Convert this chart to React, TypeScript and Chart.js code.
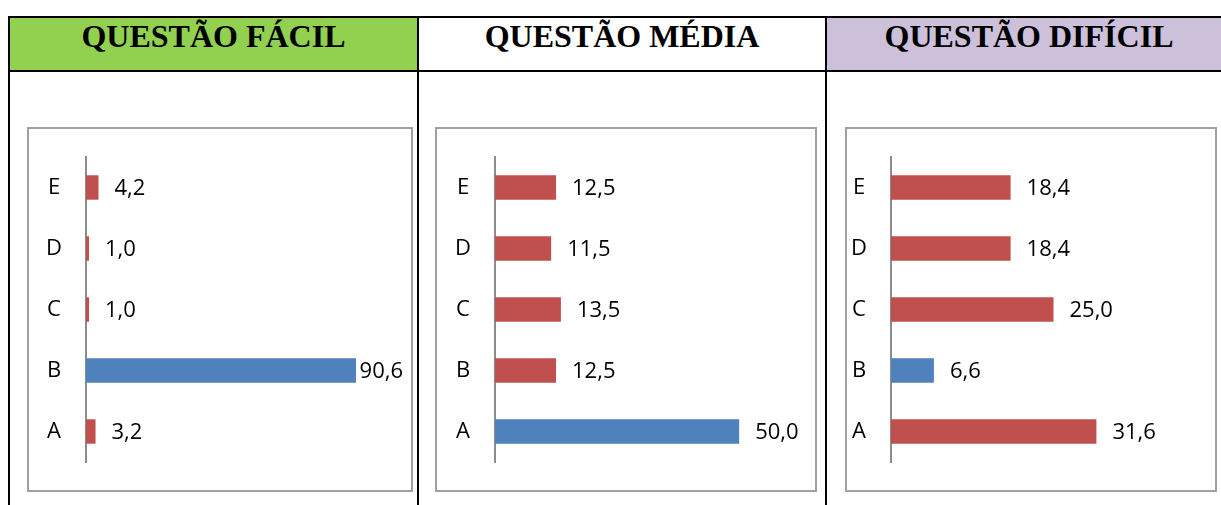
import React, { useEffect, useRef } from "react";
import { Chart, registerables } from "chart.js";

Chart.register(...registerables);

// ---- data ----
const categories = ["A", "B", "C", "D", "E"];
const easyValues = [3.2, 90.6, 1.0, 1.0, 4.2];
const mediumValues = [50.0, 12.5, 13.5, 11.5, 12.5];
const hardValues = [31.6, 6.6, 25.0, 18.4, 18.4];
const correctAnswers = ["B", "A", "B"];
const titles = ["QUESTÃO FÁCIL", "QUESTÃO MÉDIA", "QUESTÃO DIFÍCIL"];
const axisMax = [100, 60, 40];

// ---- style ----
const RED = "#C0504D";
const BLUE = "#4F81BD";
const LABEL_FONT = '"Open Sans", "Liberation Sans", sans-serif';
const FONT_SIZE = 22;

type PanelLayout = {
  left: number;
  width: number;
  yAxisWidth: number;
  padRight: number;
};

const panelLayouts: PanelLayout[] = [
  { left: 27, width: 386, yAxisWidth: 57, padRight: 27 },
  { left: 435, width: 382, yAxisWidth: 58, padRight: 27 },
  { left: 845, width: 372, yAxisWidth: 44, padRight: 64 },
];

const BOX_TOP = 127;
const BOX_HEIGHT = 365;
const BORDER = 2;

const fmt = (v: number) => v.toFixed(1).replace(".", ",");

const valueLabelPlugin = {
  id: "valueLabels",
  afterDatasetsDraw(chart: any) {
    const ctx = chart.ctx;
    const meta = chart.getDatasetMeta(0);
    const data = chart.data.datasets[0].data as number[];
    ctx.save();
    ctx.font = `${FONT_SIZE}px ${LABEL_FONT}`;
    ctx.fillStyle = "#000";
    ctx.textAlign = "left";
    ctx.textBaseline = "middle";
    meta.data.forEach((bar: any, i: number) => {
      const text = fmt(data[i]);
      const w = ctx.measureText(text).width;
      let x = bar.x + 16;
      const limit = chart.width - 8;
      if (x + w > limit) x = limit - w;
      ctx.fillText(text, x, bar.y + 1);
    });
    ctx.restore();
  },
};

function Panel({
  values,
  correct,
  max,
  layout,
}: {
  values: number[];
  correct: string;
  max: number;
  layout: PanelLayout;
}) {
  const ref = useRef<HTMLCanvasElement | null>(null);
  const cw = layout.width - 2 * BORDER;
  const ch = BOX_HEIGHT - 2 * BORDER;

  useEffect(() => {
    let chart: Chart | null = null;
    let cancelled = false;
    const make = () => {
      if (cancelled || !ref.current) return;
      chart = new Chart(ref.current, {
        type: "bar",
        data: {
          labels: categories,
          datasets: [
            {
              data: values,
              backgroundColor: categories.map((c) => (c === correct ? BLUE : RED)),
              borderWidth: 0,
              barPercentage: 0.4,
              categoryPercentage: 1,
            },
          ],
        },
        options: {
          indexAxis: "y",
          responsive: false,
          animation: false,
          devicePixelRatio: 1,
          layout: {
            padding: { top: 28, bottom: 28, left: 0, right: layout.padRight },
          },
          plugins: {
            legend: { display: false },
            tooltip: { enabled: false },
          },
          scales: {
            x: {
              display: false,
              min: 0,
              max: max,
            },
            y: {
              reverse: true,
              grid: { display: false, drawTicks: false },
              border: { display: true, color: "#8c8c8c", width: 2 },
              ticks: {
                color: "#000",
                padding: 24,
                crossAlign: "center",
                font: { family: LABEL_FONT, size: FONT_SIZE },
              },
              afterFit: (scale: any) => {
                scale.width = layout.yAxisWidth;
                scale.paddingTop = 0;
                scale.paddingBottom = 0;
              },
            },
          },
        },
        plugins: [valueLabelPlugin],
      } as any);
    };
    const fontsReady = (document as any).fonts
      ? (document as any).fonts.load(`${FONT_SIZE}px "Open Sans"`).catch(() => null)
      : Promise.resolve();
    fontsReady.then(make);
    return () => {
      cancelled = true;
      if (chart) chart.destroy();
    };
  }, []);

  return (
    <div
      style={{
        position: "absolute",
        left: layout.left,
        top: BOX_TOP,
        width: layout.width,
        height: BOX_HEIGHT,
        border: `${BORDER}px solid #a0a0a0`,
        boxSizing: "border-box",
        background: "#fff",
      }}
    >
      <canvas
        ref={ref}
        width={cw}
        height={ch}
        style={{ display: "block", width: cw, height: ch }}
      />
    </div>
  );
}

const headerCells = [
  { left: 10, right: 417, bg: "#92D050" },
  { left: 419, right: 825, bg: "#FFFFFF" },
  { left: 827, right: 1231, bg: "#CCC0DA" },
];

export default function App() {
  const valueSets = [easyValues, mediumValues, hardValues];
  const line = "#000";
  return (
    <div
      style={{
        position: "absolute",
        left: 0,
        top: 0,
        width: 1221,
        height: 505,
        overflow: "hidden",
        background: "#fff",
      }}
    >
      {headerCells.map((c, i) => (
        <div
          key={"h" + i}
          style={{
            position: "absolute",
            left: c.left,
            top: 18,
            width: c.right - c.left,
            height: 52,
            background: c.bg,
          }}
        >
          <div
            style={{
              position: "absolute",
              left: 0,
              right: 0,
              top: 2,
              textAlign: "center",
              fontFamily: '"Liberation Serif", "Times New Roman", serif',
              fontWeight: "bold",
              fontSize: 32,
              lineHeight: "32px",
              color: "#000",
              whiteSpace: "nowrap",
            }}
          >
            {titles[i]}
          </div>
        </div>
      ))}
      {/* table lines */}
      <div style={{ position: "absolute", left: 8, top: 16, width: 1240, height: 2, background: line }} />
      <div style={{ position: "absolute", left: 8, top: 70, width: 1240, height: 2, background: line }} />
      <div style={{ position: "absolute", left: 8, top: 16, width: 2, height: 500, background: line }} />
      <div style={{ position: "absolute", left: 417, top: 16, width: 2, height: 500, background: line }} />
      <div style={{ position: "absolute", left: 825, top: 16, width: 2, height: 500, background: line }} />
      {panelLayouts.map((l, i) => (
        <Panel
          key={"p" + i}
          values={valueSets[i]}
          correct={correctAnswers[i]}
          max={axisMax[i]}
          layout={l}
        />
      ))}
    </div>
  );
}
